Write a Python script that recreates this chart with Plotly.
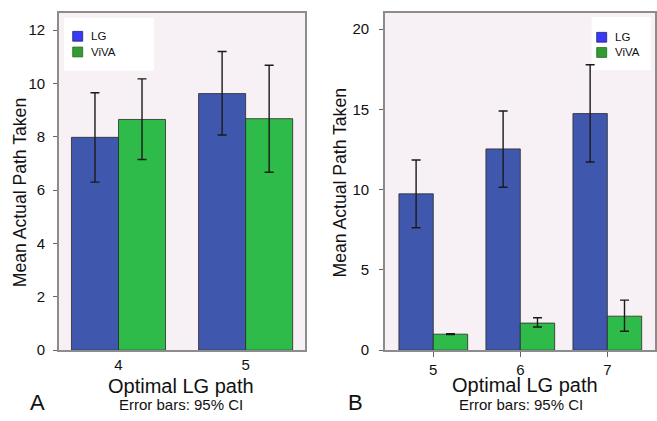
import plotly.graph_objects as go

W, H = 657, 421

# ---------------- data ----------------
series_names = ["LG", "ViVA"]

cats_a = ["4", "5"]
lg_a = [7.98, 9.62]
lg_a_lo = [6.30, 8.07]
lg_a_hi = [9.65, 11.20]
viva_a = [8.65, 8.68]
viva_a_lo = [7.15, 6.67]
viva_a_hi = [10.17, 10.68]

cats_b = ["5", "6", "7"]
lg_b = [9.74, 12.54, 14.74]
lg_b_lo = [7.63, 10.15, 11.72]
lg_b_hi = [11.85, 14.90, 17.78]
viva_b = [1.00, 1.69, 2.12]
viva_b_lo = [0.97, 1.45, 1.18]
viva_b_hi = [1.03, 2.02, 3.12]

x_title = "Optimal LG path"
y_title = "Mean Actual Path Taken"
footnote = "Error bars: 95% CI"
panel_labels = ["A", "B"]

# ---------------- style ----------------
BAR_COLORS = ["#3f58ae", "#2ebb4a"]
LEG_COLORS = ["#3a3af5", "#349a34"]
LEG_LINES = ["#1f1f80", "#1f6a1f"]
FONT = "Liberation Sans, Arial, sans-serif"
FRAME = "#8c8c8c"


def px(x):
    return x / W


def py(y):
    return 1 - y / H


def err(vals, lo, hi):
    return dict(type="data", symmetric=False,
                array=[h - v for v, h in zip(vals, hi)],
                arrayminus=[v - l for v, l in zip(vals, lo)],
                color="#1a1a1a", thickness=1.4, width=4.5)


fig = go.Figure()

panels = [
    ("x", "y", cats_a, [(lg_a, lg_a_lo, lg_a_hi), (viva_a, viva_a_lo, viva_a_hi)], 0.37),
    ("x2", "y2", cats_b, [(lg_b, lg_b_lo, lg_b_hi), (viva_b, viva_b_lo, viva_b_hi)], 0.395),
]
for xa, ya, cats, series, w in panels:
    for i, (vals, lo, hi) in enumerate(series):
        fig.add_trace(go.Bar(
            x=cats, y=vals, name=series_names[i], xaxis=xa, yaxis=ya,
            width=w, offset=(-w if i == 0 else 0),
            marker=dict(color=BAR_COLORS[i], line=dict(color="#2a2a2a", width=0.8)),
            error_y=err(vals, lo, hi), showlegend=False,
        ))

axis_common = dict(showline=True, mirror=True, linecolor=FRAME, linewidth=1.6,
                   showgrid=False, zeroline=False,
                   tickfont=dict(family=FONT, size=15, color="#111"))

fig.update_layout(
    width=W, height=H, margin=dict(l=0, r=0, t=0, b=0),
    paper_bgcolor="white", plot_bgcolor="#f7f1f6",
    barmode="overlay", showlegend=False,
    font=dict(family=FONT, color="#111"),
    xaxis=dict(domain=[px(59), px(305)], range=[-0.468, 1.467], type="category",
               anchor="y", ticks="", ticklabelstandoff=0, **axis_common),
    yaxis=dict(domain=[py(357), py(13)], range=[0, 12.65], dtick=2, anchor="x",
               ticks="outside", ticklen=4, tickcolor="#666", ticklabelstandoff=5,
               **axis_common),
    xaxis2=dict(domain=[px(385), px(655)], range=[-0.555, 2.548], type="category",
                anchor="y2", ticks="outside", ticklen=5, tickcolor="#666",
                ticklabelstandoff=0, **axis_common),
    yaxis2=dict(domain=[py(357), py(13)], range=[0, 21.02], dtick=5, anchor="x2",
                ticks="outside", ticklen=4, tickcolor="#666", ticklabelstandoff=7,
                **axis_common),
)

shapes = []
annotations = []


def ann(text, x, y, size, xanchor="center", yanchor="middle", angle=0):
    annotations.append(dict(text=text, x=px(x), y=py(y), xref="paper", yref="paper",
                            xanchor=xanchor, yanchor=yanchor, showarrow=False,
                            textangle=angle, font=dict(family=FONT, size=size, color="#111")))


# axis titles, footnotes, panel letters
ann(x_title, 181, 393, 20)
ann(x_title, 525, 392.5, 20)
ann(y_title, 20, 197, 17.6, angle=-90)
ann(y_title, 340, 187, 17.6, angle=-90)
ann(footnote, 181, 412.5, 15)
ann(footnote, 521, 412.5, 15)
ann(panel_labels[0], 37.5, 410, 22)
ann(panel_labels[1], 355.5, 410, 22)

# legends (box, swatches, labels)
legends = [
    dict(box=(64, 18, 154, 72), sx=77.7, tx=89.3, ys=(37, 53)),
    dict(box=(591.7, 17.3, 650.7, 71.7), sx=601.7, tx=613.3, ys=(38, 53.5)),
]
for lg in legends:
    x0, y0, x1, y1 = lg["box"]
    shapes.append(dict(type="rect", xref="paper", yref="paper", x0=px(x0), x1=px(x1),
                       y0=py(y1), y1=py(y0), fillcolor="white", line=dict(width=0),
                       layer="below"))
    for i, name in enumerate(series_names):
        yc = lg["ys"][i]
        shapes.append(dict(type="rect", xref="paper", yref="paper",
                           x0=px(lg["sx"] - 5), x1=px(lg["sx"] + 5),
                           y0=py(yc + 5), y1=py(yc - 5), fillcolor=LEG_COLORS[i],
                           line=dict(color=LEG_LINES[i], width=0.8), layer="above"))
        ann(name, lg["tx"], yc, 11.5, xanchor="left")

fig.update_layout(shapes=shapes, annotations=annotations)

fig.write_html(
    "out.html",
    config={"displayModeBar": False},
    post_script="document.body.style.margin='0';document.body.style.overflow='hidden';",
)
